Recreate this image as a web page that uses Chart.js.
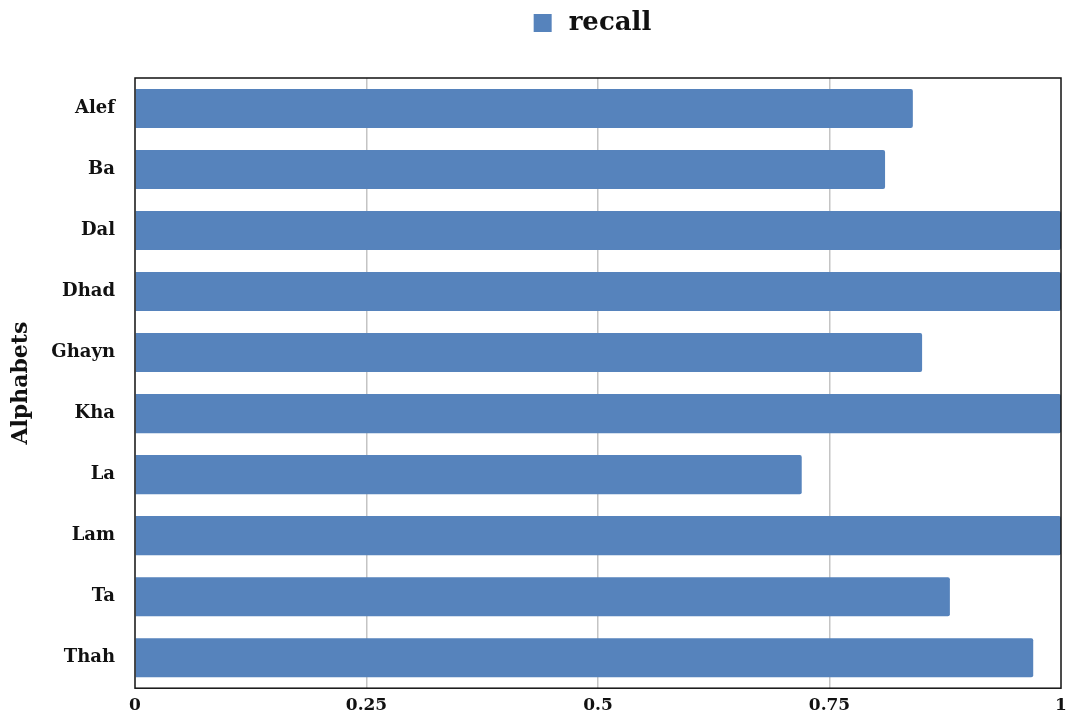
<!DOCTYPE html>
<html>
<head>
<meta charset="utf-8">
<script src="https://cdn.jsdelivr.net/npm/chart.js@4"></script>
<style>
  html, body { margin: 0; padding: 0; background: #ffffff; }
  #wrap { width: 1071px; height: 719px; }
</style>
</head>
<body>
<div id="wrap"><canvas id="c" width="1071" height="719"></canvas></div>
<script>
const categories = ["Alef", "Ba", "Dal", "Dhad", "Ghayn", "Kha", "La", "Lam", "Ta", "Thah"];
const recall = [0.84, 0.81, 1.0, 1.0, 0.85, 1.0, 0.72, 1.0, 0.88, 0.97];
const xTicks = [0, 0.25, 0.5, 0.75, 1];
const xTickLabels = ["0", "0.25", "0.5", "0.75", "1"];

const FONT = "'DejaVu Serif', serif";
const BAR = "#5683bc";

// frame drawn around the plotting area
const frame = {
  id: "frame",
  afterDraw(chart) {
    const { ctx, chartArea: a } = chart;
    ctx.save();
    ctx.strokeStyle = "#111111";
    ctx.lineWidth = 1.5;
    ctx.strokeRect(a.left, a.top, a.right - a.left, a.bottom - a.top);
    ctx.restore();
  }
};

// extra room below the legend, and the legend sits a little right of centre
const legendPlacement = {
  id: "legendPlacement",
  beforeLayout(chart) {
    const lg = chart.legend;
    if (lg && !lg._gapPatched) {
      const fit = lg.fit.bind(lg);
      lg.fit = function () { fit(); this.height += 32; };
      lg._gapPatched = true;
    }
  },
  afterLayout(chart) {
    const lg = chart.legend;
    if (lg) {
      lg.left += 56;
      lg.right += 56;
      lg.adjustHitBoxes();
    }
  }
};

new Chart(document.getElementById("c"), {
  type: "bar",
  data: {
    labels: categories,
    datasets: [{
      label: "recall",
      data: recall,
      backgroundColor: BAR,
      borderWidth: 0,
      borderRadius: 2,
      borderSkipped: "start",
      categoryPercentage: 1.0,
      barPercentage: 0.64
    }]
  },
  options: {
    indexAxis: "y",
    responsive: false,
    animation: false,
    layout: { padding: { left: 8, right: 10, top: 0, bottom: 0 } },
    plugins: {
      legend: {
        display: true,
        position: "top",
        labels: {
          usePointStyle: true,
          pointStyle: "rect",
          boxWidth: 30,
          boxHeight: 18,
          padding: 10,
          color: "#111111",
          font: { family: FONT, size: 26, weight: "bold" }
        }
      },
      tooltip: { enabled: false }
    },
    scales: {
      x: {
        type: "linear",
        min: 0,
        max: 1,
        afterBuildTicks(scale) { scale.ticks = xTicks.map(v => ({ value: v })); },
        afterFit(scale) {
          scale.height = 29;
          scale.paddingLeft = 0;
          scale.paddingRight = 0;
        },
        ticks: {
          color: "#111111",
          padding: 7,
          maxRotation: 0,
          font: { family: FONT, size: 17, weight: "bold" },
          callback: (v) => xTickLabels[xTicks.indexOf(v)]
        },
        grid: {
          color: (c) => (c.tick && (c.tick.value === 0 || c.tick.value === 1)) ? "rgba(0,0,0,0)" : "#c4c4c4",
          lineWidth: 1.5,
          drawTicks: false
        },
        border: { display: false }
      },
      y: {
        afterFit(scale) { scale.width = 127; },
        ticks: {
          color: "#111111",
          padding: 20,
          font: { family: FONT, size: 18, weight: "bold" }
        },
        grid: { display: false, drawTicks: false },
        border: { display: false },
        title: {
          display: true,
          text: "Alphabets",
          color: "#111111",
          padding: 0,
          font: { family: FONT, size: 22, weight: "bold" }
        }
      }
    }
  },
  plugins: [frame, legendPlacement]
});
</script>
</body>
</html>
